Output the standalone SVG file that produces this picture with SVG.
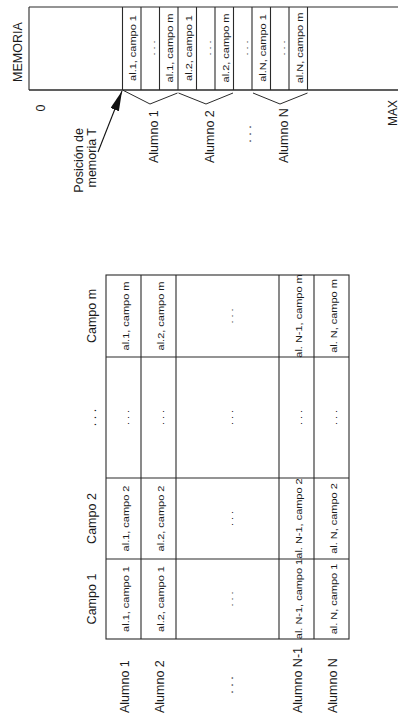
<svg xmlns="http://www.w3.org/2000/svg" width="398" height="720" viewBox="0 0 398 720">
<style>
text{font-family:"Liberation Sans",Arial,sans-serif;fill:#1a1a1a}
.lbl{font-size:12.5px}
.c{font-size:9px;text-anchor:middle}
.mid{text-anchor:middle}
.ln{stroke:#2a2a2a;stroke-width:1.1;fill:none}
.br{stroke:#2a2a2a;stroke-width:1;fill:none}
</style>
<defs>
<marker id="ah" markerUnits="userSpaceOnUse" markerWidth="20" markerHeight="10" refX="20" refY="4.5" orient="auto">
<path d="M0,0 L20,4.5 L0,9 z" fill="#111"/>
</marker>
</defs>
<rect width="398" height="720" fill="#fff"/>
<g transform="translate(0,720) rotate(-90)">
  <g id="memoria">
    <path class="ln" d="M29,630 H402 M29,713 H402 M630,29 V713"/>
    <path class="ln" d="M630,29 V402 M713,29 V402 M630,29 H713"/>
    <path class="ln" d="M630,122.5 H713 M630,141 H713 M630,159.5 H713 M630,178 H713 M630,196.5 H713 M630,215 H713 M630,233.5 H713 M630,252 H713 M630,270.5 H713 M630,289 H713 M630,307.5 H713"/>
    <text class="lbl mid" x="668" y="22" font-size="13">MEMORIA</text>
    <text class="lbl mid" x="612" y="45">0</text>
    <text class="mid" x="607" y="396.5" font-size="12">MAX</text>
    <text class="c" transform="translate(672,136) scale(1.22,1)">al.1, campo 1</text>
    <text class="c" transform="translate(672,155) scale(1.22,1)">. . .</text>
    <text class="c" transform="translate(672,173) scale(1.22,1)">al.1, campo m</text>
    <text class="c" transform="translate(672,191.5) scale(1.22,1)">al.2, campo 1</text>
    <text class="c" transform="translate(672,210.5) scale(1.22,1)">. . .</text>
    <text class="c" transform="translate(672,228.5) scale(1.22,1)">al.2, campo m</text>
    <text class="c" transform="translate(672,247.5) scale(1.22,1)">. . .</text>
    <text class="c" transform="translate(672,265.5) scale(1.22,1)">al.N, campo 1</text>
    <text class="c" transform="translate(672,284.5) scale(1.22,1)">. . .</text>
    <text class="c" transform="translate(672,302.5) scale(1.22,1)">al.N, campo m</text>
  </g>
  <g id="posicion">
    <text class="lbl" x="592" y="83" text-anchor="end">Posición de</text>
    <text class="lbl" x="592" y="96" text-anchor="end">memoria T</text>
  </g>
  <g id="alumnos-memoria">
    <text class="lbl" x="557" y="158">Alumno 1</text>
    <text class="lbl" x="557" y="214">Alumno 2</text>
    <text class="lbl mid" x="586" y="251">. . .</text>
    <text class="lbl" x="557" y="288">Alumno N</text>
  </g>
  <g id="tabla">
    <rect class="ln" x="81" y="106" width="364" height="243"/>
    <path class="ln" d="M81,141 H445 M81,176 H445 M81,279 H445 M81,314 H445 M161,106 V349 M242,106 V349 M363,106 V349"/>
    <text class="lbl mid" x="121" y="96">Campo 1</text>
    <text class="lbl mid" x="201.5" y="96">Campo 2</text>
    <text class="lbl mid" x="302.5" y="96">. . .</text>
    <text class="lbl mid" x="404" y="96">Campo m</text>
    <text class="lbl" x="7" y="128.5">Alumno 1</text>
    <text class="lbl" x="7" y="163.5">Alumno 2</text>
    <text class="lbl mid" x="35" y="232.5">. . .</text>
    <text class="lbl" x="7" y="301.5">Alumno N-1</text>
    <text class="lbl" x="7" y="336.5">Alumno N</text>
    <text class="c" transform="translate(121,128.5) scale(1.22,1)">al.1, campo 1</text>
    <text class="c" transform="translate(201.5,128.5) scale(1.22,1)">al.1, campo 2</text>
    <text class="c" transform="translate(302.5,128.5) scale(1.22,1)">. . .</text>
    <text class="c" transform="translate(404,128.5) scale(1.22,1)">al.1, campo m</text>
    <text class="c" transform="translate(121,163.5) scale(1.22,1)">al.2, campo 1</text>
    <text class="c" transform="translate(201.5,163.5) scale(1.22,1)">al.2, campo 2</text>
    <text class="c" transform="translate(302.5,163.5) scale(1.22,1)">. . .</text>
    <text class="c" transform="translate(404,163.5) scale(1.22,1)">al.2, campo m</text>
    <text class="c" transform="translate(121,232.5) scale(1.22,1)">. . .</text>
    <text class="c" transform="translate(201.5,232.5) scale(1.22,1)">. . .</text>
    <text class="c" transform="translate(302.5,232.5) scale(1.22,1)">. . .</text>
    <text class="c" transform="translate(404,232.5) scale(1.22,1)">. . .</text>
    <text class="c" transform="translate(121,301.5) scale(1.22,1)">al. N-1, campo 1</text>
    <text class="c" transform="translate(201.5,301.5) scale(1.22,1)">al. N-1, campo 2</text>
    <text class="c" transform="translate(302.5,301.5) scale(1.22,1)">. . .</text>
    <text class="c" transform="translate(404,301.5) scale(1.22,1)">al. N-1, campo m</text>
    <text class="c" transform="translate(121,336.5) scale(1.22,1)">al. N, campo 1</text>
    <text class="c" transform="translate(201.5,336.5) scale(1.22,1)">al. N, campo 2</text>
    <text class="c" transform="translate(302.5,336.5) scale(1.22,1)">. . .</text>
    <text class="c" transform="translate(404,336.5) scale(1.22,1)">al. N, campo m</text>
  </g>
  <g id="conectores">
    <line x1="568" y1="98" x2="629" y2="122" stroke="#111" stroke-width="1.1" marker-end="url(#ah)"/>
    <polyline class="br" points="630,122.5 616,150 627,177.5"/>
    <polyline class="br" points="627,178.5 616,206 627,233"/>
    <polyline class="br" points="627,253 616,280 627,307.5"/>
  </g>
</g>
</svg>
